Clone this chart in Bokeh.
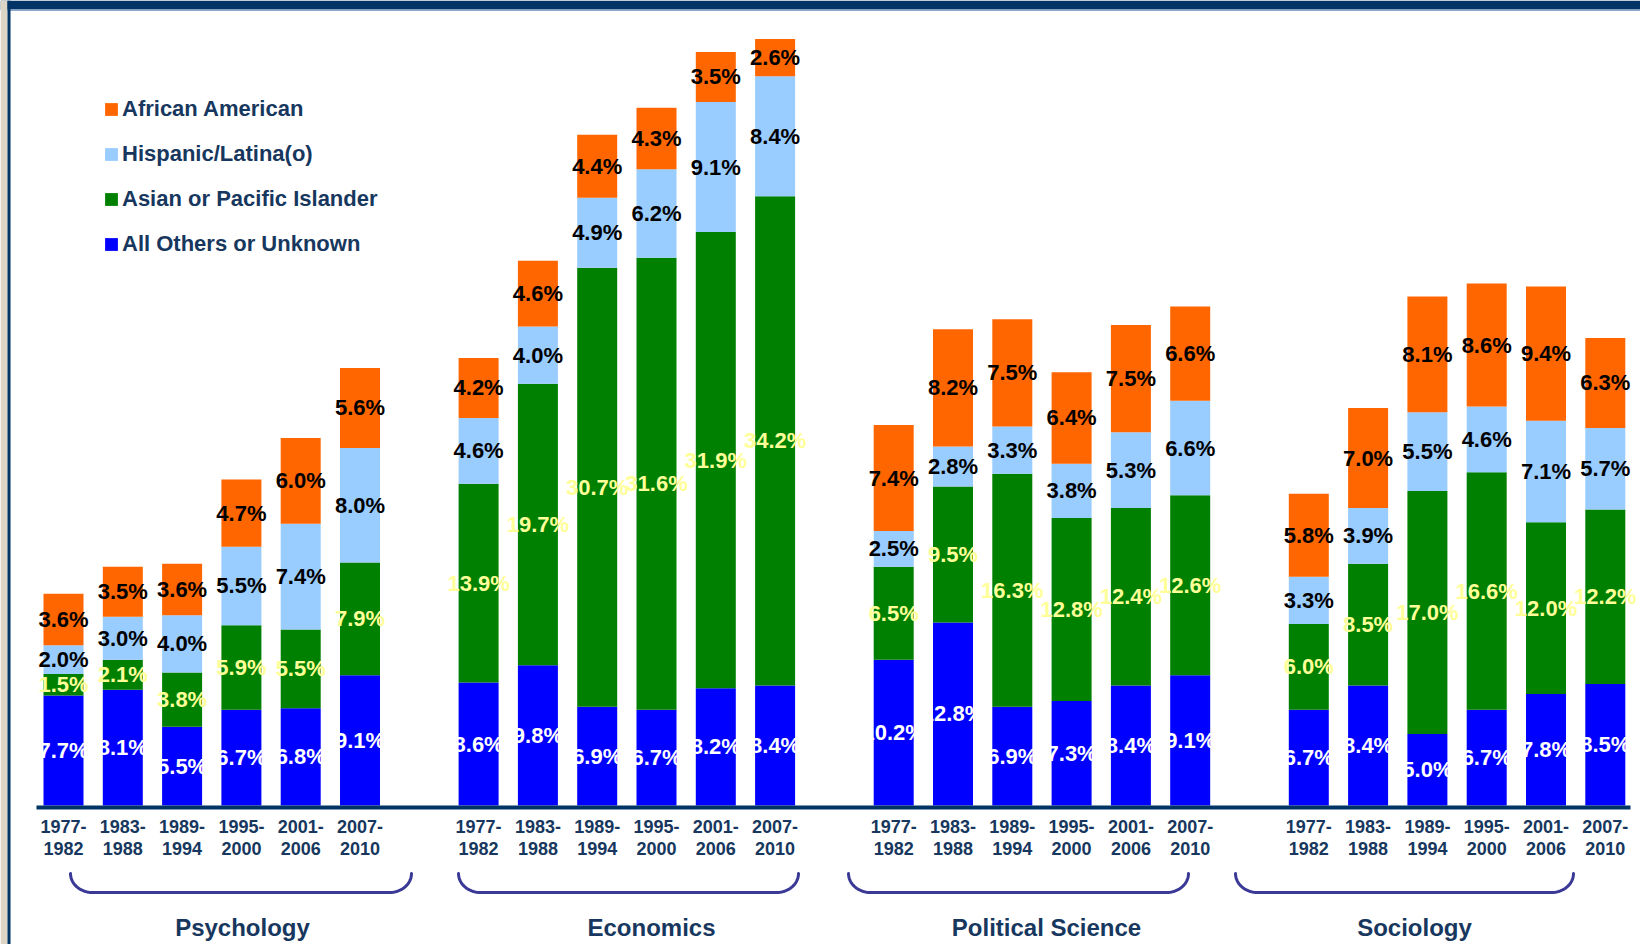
import numpy as np
from bokeh.plotting import figure
from bokeh.models import ColumnDataSource, Range1d, Legend, LegendItem
from bokeh.core.properties import value
from bokeh.embed import file_html
from bokeh.resources import INLINE

# ---------------- data ----------------
GROUPS = ["Psychology", "Economics", "Political Science", "Sociology"]
PERIOD_START = ["1977-", "1983-", "1989-", "1995-", "2001-", "2007-"]
PERIOD_END = ["1982", "1988", "1994", "2000", "2006", "2010"]
SERIES = ["All Others or Unknown", "Asian or Pacific Islander",
          "Hispanic/Latina(o)", "African American"]

# values per series, 6 periods for each group (Psychology, Economics, Political Science, Sociology)
others = [7.7, 8.1, 5.5, 6.7, 6.8, 9.1,
          8.6, 9.8, 6.9, 6.7, 8.2, 8.4,
          10.2, 12.8, 6.9, 7.3, 8.4, 9.1,
          6.7, 8.4, 5.0, 6.7, 7.8, 8.5]
asian = [1.5, 2.1, 3.8, 5.9, 5.5, 7.9,
         13.9, 19.7, 30.7, 31.6, 31.9, 34.2,
         6.5, 9.5, 16.3, 12.8, 12.4, 12.6,
         6.0, 8.5, 17.0, 16.6, 12.0, 12.2]
hispanic = [2.0, 3.0, 4.0, 5.5, 7.4, 8.0,
            4.6, 4.0, 4.9, 6.2, 9.1, 8.4,
            2.5, 2.8, 3.3, 3.8, 5.3, 6.6,
            3.3, 3.9, 5.5, 4.6, 7.1, 5.7]
african = [3.6, 3.5, 3.6, 4.7, 6.0, 5.6,
           4.2, 4.6, 4.4, 4.3, 3.5, 2.6,
           7.4, 8.2, 7.5, 6.4, 7.5, 6.6,
           5.8, 7.0, 8.1, 8.6, 9.4, 6.3]

# ---------------- layout / style ----------------
W, H = 1640, 944
X0_PX, SLOT_PX = 63.0, 59.3      # first bar centre, slot pitch
BASE_PX, UNIT_PX = 805.0, 14.3   # baseline pixel, pixels per percentage point
BAR_W = 40.0 / SLOT_PX

COLORS = ["#0000FF", "#008000", "#99CCFF", "#FF6600"]
LABEL_COLORS = ["#FFFFFF", "#FFFF99", "#000000", "#000000"]
NAVY = "#003366"
TEXT_NAVY = "#17375E"
BRACE_COLOR = "#3A3A96"
FONT = "Liberation Sans"

BRACE_SPANS_PX = [(70, 411), (458, 798), (848, 1188), (1235, 1573)]
GROUP_LABEL_PX = [242, 651, 1046, 1414]


def dx(px):
    return (px - X0_PX) / SLOT_PX


def dy(py):
    return (BASE_PX - py) / UNIT_PX


n_per = len(PERIOD_START)
slots = [g * (n_per + 1) + i for g in range(len(GROUPS)) for i in range(n_per)]

src = ColumnDataSource(dict(x=slots, others=others, asian=asian,
                            hispanic=hispanic, african=african))

p = figure(width=W, height=H, output_backend="svg", toolbar_location=None,
           x_range=Range1d(dx(0), dx(W)), y_range=Range1d(dy(H), dy(0)),
           min_border=0, min_border_left=0, min_border_right=0,
           min_border_top=0, min_border_bottom=0)
p.axis.visible = False
p.grid.visible = False
p.outline_line_color = None
p.background_fill_color = "#FFFFFF"
p.border_fill_color = "#FFFFFF"

# frame decorations
p.quad(left=dx(0), right=dx(W), top=dy(0), bottom=dy(9), color=NAVY, line_color=None)
p.quad(left=dx(0), right=dx(W), top=dy(9), bottom=dy(10.5), color="#8EA9CC", line_color=None)
p.quad(left=dx(0), right=dx(7), top=dy(0), bottom=dy(H), color="#DCD4C4", line_color=None)
p.quad(left=dx(7), right=dx(10), top=dy(0), bottom=dy(H), color=NAVY, line_color=None)

# stacked bars
stack_keys = ["others", "asian", "hispanic", "african"]
renderers = p.vbar_stack(stack_keys, x="x", width=BAR_W, color=COLORS,
                         line_color=None, source=src)

# baseline
p.quad(left=dx(36), right=dx(1630), top=dy(805), bottom=dy(809), color=NAVY, line_color=None)

# value labels
lx, ly, lt, lc = [], [], [], []
series_vals = [others, asian, hispanic, african]
for k in range(len(slots)):
    base = 0.0
    for s, vals in enumerate(series_vals):
        v = vals[k]
        lx.append(slots[k])
        ly.append(base + v / 2.0)
        lt.append(f"{v:.1f}%")
        lc.append(LABEL_COLORS[s])
        base += v
lab_src = ColumnDataSource(dict(x=lx, y=ly, t=lt, c=lc))
p.text(x="x", y="y", text="t", text_color="c", source=lab_src,
       text_font=value(FONT), text_font_style="bold", text_font_size="22px",
       text_align="center", text_baseline="middle")

# period tick labels (two lines)
p.text(x=slots, y=[dy(826)] * len(slots), text=PERIOD_START * len(GROUPS),
       text_font=value(FONT), text_font_style="bold", text_font_size="18px",
       text_color=TEXT_NAVY, text_align="center", text_baseline="alphabetic")
p.text(x=slots, y=[dy(848)] * len(slots), text=PERIOD_END * len(GROUPS),
       text_font=value(FONT), text_font_style="bold", text_font_size="18px",
       text_color=TEXT_NAVY, text_align="center", text_baseline="alphabetic")

# braces
bx, by = [], []
t = np.linspace(0, np.pi / 2, 20)
rx, ry, top_px = 22.0, 19.0, 873.0
for x0, x1 in BRACE_SPANS_PX:
    left_x = x0 + rx * (1 - np.cos(t))
    left_y = top_px + ry * np.sin(t)
    right_x = x1 - rx * (1 - np.cos(t[::-1]))
    right_y = top_px + ry * np.sin(t[::-1])
    xs_px = np.concatenate([left_x, right_x])
    ys_px = np.concatenate([left_y, right_y])
    bx.append(list(dx(xs_px)))
    by.append(list(dy(ys_px)))
p.multi_line(xs=bx, ys=by, line_color=BRACE_COLOR, line_width=3, line_cap="round")

# group labels
p.text(x=[dx(v) for v in GROUP_LABEL_PX], y=[dy(927)] * len(GROUPS), text=GROUPS,
       text_font=value(FONT), text_font_style="bold", text_font_size="24px",
       text_color=TEXT_NAVY, text_align="center", text_baseline="alphabetic")

# legend
items = [LegendItem(label=SERIES[i], renderers=[renderers[i]]) for i in [3, 2, 1, 0]]
legend = Legend(items=items, location=(103, 944 - 259),
                glyph_width=16, glyph_height=16, label_height=30, label_standoff=3,
                spacing=15, padding=0, margin=0,
                border_line_color=None, background_fill_alpha=0,
                label_text_font=FONT, label_text_font_style="bold",
                label_text_font_size="22px", label_text_color=TEXT_NAVY)
p.add_layout(legend)

open("out.html", "w").write(file_html(p, INLINE))
